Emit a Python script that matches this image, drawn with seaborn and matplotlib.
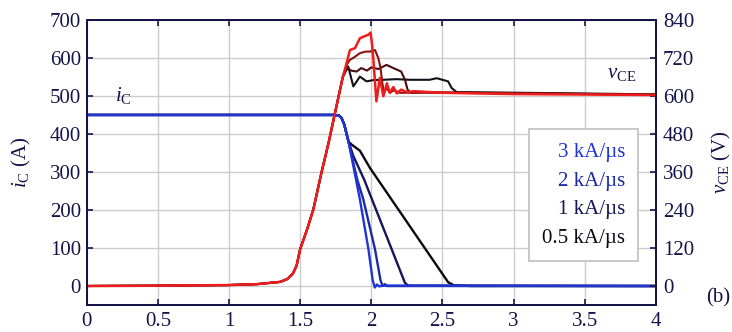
import matplotlib
matplotlib.use("Agg")
import matplotlib.pyplot as plt
import seaborn as sns

# Turn-off waveforms (time in µs)
rates = ['3 kA/µs', '2 kA/µs', '1 kA/µs', '0.5 kA/µs']

# collector current iC (A): shared flat part + knee, then one tail per di/dt
ic_common_t = [0, 1.74, 1.77, 1.79, 1.81, 1.84]
ic_common = [450, 450, 449, 443, 425, 380]

ic_3_t = [1.92, 1.98, 2.01, 2.025, 2.04, 2.055, 2.08, 4.0]
ic_3 = [228, 97, 15, -4, 4, -1, 1, 0]
ic_2_t = [1.90, 1.944, 2.026, 2.065, 2.08, 2.095, 2.11, 4.0]
ic_2 = [282, 228, 97, 15, 0, 5, 0, 0]
ic_1_t = [1.874, 1.95, 2.237, 2.26, 4.0]
ic_1 = [342, 280, 8, 1, 0]
ic_05_t = [1.862, 1.92, 1.99, 2.54, 2.58, 2.7, 4.0]
ic_05 = [372, 356, 311, 10, 2, 0, 0]

# collector-emitter voltage vCE (V): shared rise, then one tail per di/dt
vce_common_t = [0, 0.5, 1.0, 1.2, 1.36, 1.41, 1.45, 1.475, 1.5, 1.55, 1.593, 1.65, 1.70, 1.745, 1.80]
vce_common = [0, 1, 3, 6, 13, 22, 40, 64, 116, 180, 242, 358, 452, 546, 660]

vce_3_t = [1.827, 1.85, 1.886, 1.92, 1.944, 1.979, 1.995, 2.005, 2.014, 2.036, 2.06, 2.085,
           2.11, 2.13, 2.155, 2.18, 2.21, 2.25, 2.3, 2.5, 3.0, 4.0]
vce_3 = [704, 745, 751, 782, 787, 793, 800, 765, 719, 583, 657, 599,
         640, 610, 628, 608, 620, 612, 615, 610, 606, 603]
vce_2_t = [1.83, 1.85, 1.88, 1.92, 1.96, 1.99, 2.026, 2.05, 2.065, 2.078, 2.09, 2.11,
           2.13, 2.16, 2.2, 2.5, 4.0]
vce_2 = [700, 714, 722, 735, 740, 740, 745, 719, 688, 640, 612, 625,
         610, 618, 610, 610, 604]
vce_1_t = [1.826, 1.86, 1.897, 1.93, 1.97, 2.0, 2.05, 2.107, 2.155, 2.21, 2.237, 2.255, 2.28, 2.35, 4.0]
vce_1 = [688, 680, 677, 688, 680, 690, 685, 698, 688, 677, 651, 620, 610, 612, 604]
vce_05_t = [1.838, 1.874, 1.92, 1.967, 2.014, 2.084, 2.177, 2.27, 2.41, 2.46, 2.54, 2.565, 2.6, 2.65, 4.0]
vce_05 = [693, 630, 661, 646, 650, 651, 653, 651, 651, 656, 646, 625, 612, 612, 605]

ic_tails = [(ic_3_t, ic_3), (ic_2_t, ic_2), (ic_1_t, ic_1), (ic_05_t, ic_05)]
vce_tails = [(vce_3_t, vce_3), (vce_2_t, vce_2), (vce_1_t, vce_1), (vce_05_t, vce_05)]

ic_colors = ['#1f35d6', '#1b2aa6', '#15155a', '#0a0a16']
vce_colors = ['#ee1c1c', '#8a1414', '#4a0c0c', '#101018']
ink = '#14144a'
fs = 15

sns.set_style("ticks")
plt.rcParams['font.family'] = ['Liberation Serif', 'DejaVu Serif']
plt.rcParams['mathtext.fontset'] = 'custom'
plt.rcParams['mathtext.rm'] = 'Liberation Serif'
plt.rcParams['mathtext.it'] = 'Liberation Serif:italic'

fig = plt.figure(figsize=(7.32, 3.32), dpi=100)
ax = fig.add_axes([0.1184, 0.0813, 0.7776, 0.8587])
ax2 = ax.twinx()

# iC curves, slowest first so 3 kA/us ends on top
for i in [3, 2, 1, 0]:
    t = ic_common_t + ic_tails[i][0]
    y = ic_common + ic_tails[i][1]
    sns.lineplot(x=t, y=y, ax=ax, color=ic_colors[i], lw=1.7, sort=False,
                 estimator=None, label=rates[i], legend=False)

for i in [3, 2, 1, 0]:
    t = vce_common_t + vce_tails[i][0]
    y = vce_common + vce_tails[i][1]
    sns.lineplot(x=t, y=y, ax=ax2, color=vce_colors[i], lw=1.8 if i == 0 else 1.5,
                 sort=False, estimator=None, legend=False)

ax.set_xlim(0, 4)
ax.set_ylim(-50, 700)
ax2.set_ylim(-60, 840)
ax.set_xticks([0, 0.5, 1, 1.5, 2, 2.5, 3, 3.5, 4])
ax.set_xticklabels(['0', '0.5', '1', '1.5', '2', '2.5', '3', '3.5', '4'])
ax.set_yticks(range(0, 701, 100))
ax2.set_yticks(range(0, 841, 120))

ax.grid(True, color='#cccccc', lw=1.0)
ax.set_axisbelow(True)

ax.tick_params(axis='both', direction='in', length=4, width=1.2, colors=ink,
               labelsize=fs, top=True)
ax.tick_params(axis='x', pad=5)
ax.tick_params(axis='y', pad=4)
ax2.tick_params(axis='y', direction='in', length=4, width=1.2, colors=ink,
                labelsize=fs, pad=5)
for a in (ax, ax2):
    for s in a.spines.values():
        s.set_color(ink)
        s.set_linewidth(1.4)

ax.set_xlabel('')
ax.set_ylabel(r'$i_{\mathrm{C}}$ (A)', fontsize=fs, color=ink)
ax.yaxis.set_label_coords(-0.094, 0.5)
ax2.set_ylabel(r'$v_{\mathrm{CE}}$ (V)', fontsize=fs, color=ink)
ax2.yaxis.set_label_coords(1.095, 0.5)

ax.text(0.2, 500, r'$i_{\mathrm{C}}$', fontsize=fs, color=ink, va='center')
ax2.text(3.66, 670, r'$v_{\mathrm{CE}}$', fontsize=fs, color=ink, va='center')
fig.text(0.981, 0.102, '(b)', fontsize=fs, color=ink, ha='center', va='center')

handles = ax.get_lines()[:4][::-1]
leg = ax2.legend(handles, rates, loc='upper right', bbox_to_anchor=(0.969, 0.616),
                 borderaxespad=0, handlelength=0, handletextpad=0, markerfirst=False,
                 fancybox=False, framealpha=1, edgecolor='#c4c4c4', fontsize=fs,
                 labelspacing=0.43, borderpad=0.63, labelcolor=ic_colors)
leg.get_frame().set_linewidth(1.3)

fig.savefig('out.png', dpi=100)
